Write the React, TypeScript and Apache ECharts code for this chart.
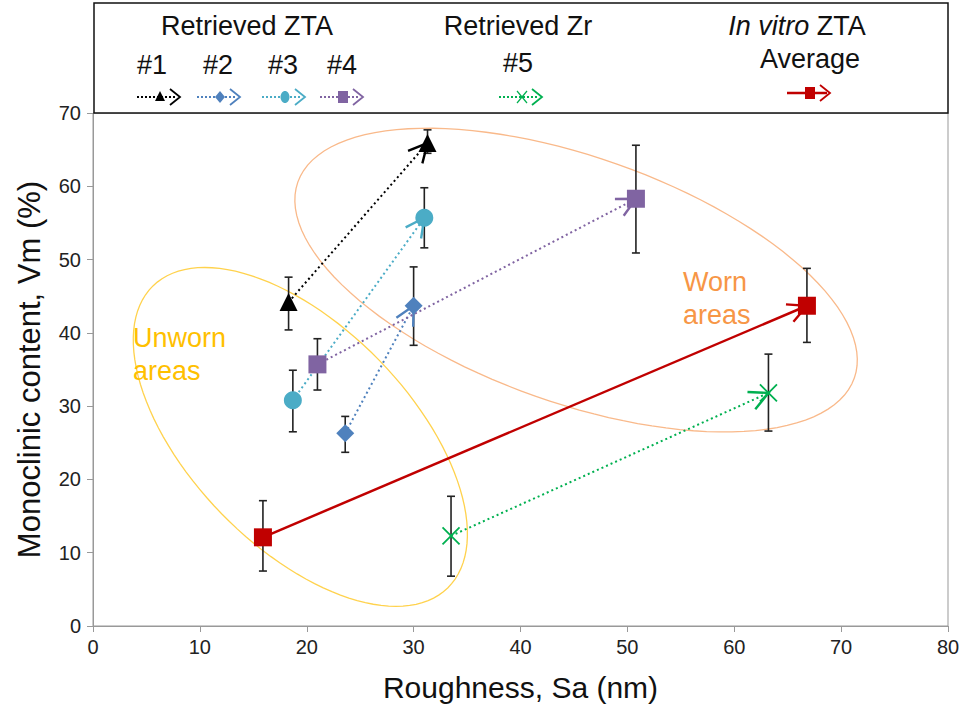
import React, { useEffect, useRef } from "react";
import * as echarts from "echarts";

// ---- data ----
const seriesNames = ["#1", "#2", "#3", "#4", "#5", "Average"];
const startX = [18.3, 23.6, 18.7, 21.0, 33.5, 15.9];
const startY = [44.2, 26.3, 30.8, 35.7, 12.3, 12.1];
const endX = [31.3, 30.0, 31.0, 50.8, 63.2, 66.8];
const endY = [65.9, 43.7, 55.7, 58.3, 31.8, 43.7];
const startLow = [40.4, 23.7, 26.5, 32.2, 6.8, 7.5];
const startHigh = [47.6, 28.6, 34.9, 39.2, 17.7, 17.1];
const endLow = [64.5, 38.3, 51.6, 50.9, 26.6, 38.7];
const endHigh = [67.7, 49.0, 59.8, 65.6, 37.1, 48.8];

const colors = ["#000000", "#4F81BD", "#4BACC6", "#8064A2", "#00B050", "#C00000"];
const symbols = [
  "triangle",
  "diamond",
  "circle",
  "rect",
  "path://M0,0L10,10M10,0L0,10",
  "rect",
];
const symbolSizes = [18, 18, 18, 18, 17, 18];

// annotation ellipses: center in data units, semi-axes (px) and tilt (deg)
const ellipseCenters = [
  [45.2, 47.2],
  [19.4, 25.8],
];
const ellipseA = [295, 211];
const ellipseB = [123, 110];
const ellipseTilt = [19.4, 45.7];
const ellipseColors = ["#F9B98A", "#FFD24D"];

const FONT = "'Liberation Sans', Arial, sans-serif";

function legendArrow(x0: number, y: number, color: string, marker: string, dotted: boolean) {
  const children: any[] = [];
  children.push({
    type: "line",
    shape: { x1: x0, y1: y, x2: x0 + 40, y2: y },
    style: dotted
      ? { stroke: color, lineWidth: 2, lineDash: [2, 2] }
      : { stroke: color, lineWidth: 2.5 },
  });
  const mx = x0 + 23;
  if (marker === "triangle") {
    children.push({ type: "polygon", shape: { points: [[mx, y - 6], [mx - 5, y + 4], [mx + 5, y + 4]] }, style: { fill: color } });
  } else if (marker === "diamond") {
    children.push({ type: "polygon", shape: { points: [[mx, y - 6], [mx + 5, y], [mx, y + 6], [mx - 5, y]] }, style: { fill: color } });
  } else if (marker === "circle") {
    children.push({ type: "ellipse", shape: { cx: mx, cy: y, rx: 4.5, ry: 6 }, style: { fill: color } });
  } else if (marker === "rect") {
    children.push({ type: "rect", shape: { x: mx - 5, y: y - 6, width: 10, height: 12 }, style: { fill: color } });
  } else if (marker === "x") {
    children.push({ type: "line", shape: { x1: mx - 5, y1: y - 6, x2: mx + 5, y2: y + 6 }, style: { stroke: color, lineWidth: 1.2 } });
    children.push({ type: "line", shape: { x1: mx + 5, y1: y - 6, x2: mx - 5, y2: y + 6 }, style: { stroke: color, lineWidth: 1.2 } });
  }
  children.push({
    type: "polyline",
    shape: { points: [[x0 + 33, y - 8], [x0 + 43, y], [x0 + 33, y + 8]] },
    style: { stroke: color, lineWidth: 1.8, fill: "none" },
  });
  return children;
}

function txt(x: number, y: number, text: string, extra: any = {}) {
  return {
    type: "text",
    x,
    y,
    style: { text, fontSize: 27, fontFamily: FONT, fill: "#111", align: "center", verticalAlign: "middle", ...extra },
  };
}

export default function App() {
  const ref = useRef<HTMLDivElement>(null);
  useEffect(() => {
    if (!ref.current) return;
    const chart = echarts.init(ref.current, undefined, { renderer: "svg" });

    const lineSeries = seriesNames.map((name, i) => ({
      type: "line",
      name,
      z: 4,
      data: [
        [startX[i], startY[i]],
        [endX[i], endY[i]],
      ],
      symbol: symbols[i],
      symbolSize: symbolSizes[i],
      itemStyle:
        i === 4
          ? { color: colors[i], borderColor: colors[i], borderWidth: 1.8 }
          : { color: colors[i] },
      lineStyle: {
        color: colors[i],
        width: i === 5 ? 2.5 : 2,
        type: i === 5 ? "solid" : [2, 3],
      },
    }));

    const errData: number[][] = [];
    seriesNames.forEach((_, i) => {
      errData.push([startX[i], startLow[i], startHigh[i]]);
      errData.push([endX[i], endLow[i], endHigh[i]]);
    });

    const arrowData = seriesNames.map((_, i) => [endX[i], endY[i], startX[i], startY[i], i]);

    const legendEls: any[] = [
      txt(247, 26, "Retrieved ZTA"),
      txt(518, 26, "Retrieved Zr"),
      txt(797, 26, "{i|In vitro} ZTA", {
        rich: { i: { fontStyle: "italic", fontSize: 27, fontFamily: FONT, fill: "#111" } },
      }),
      txt(810, 59, "Average"),
      txt(152, 65, "#1"),
      txt(218, 65, "#2"),
      txt(283, 65, "#3"),
      txt(342, 65, "#4"),
      txt(518, 63, "#5"),
      ...legendArrow(137, 97, colors[0], "triangle", true),
      ...legendArrow(197, 97, colors[1], "diamond", true),
      ...legendArrow(262, 97, colors[2], "circle", true),
      ...legendArrow(320, 97, colors[3], "rect", true),
      ...legendArrow(499, 97, colors[4], "x", true),
      ...legendArrow(787, 93, colors[5], "rect", false),
    ].map((el) => ({ ...el, z: 20 }));

    const option: any = {
      animation: false,
      grid: {
        left: 93,
        right: 16,
        top: 113,
        bottom: 84,
        show: true,
        borderColor: "#999",
        borderWidth: 1,
        backgroundColor: "transparent",
      },
      xAxis: {
        type: "value",
        min: 0,
        max: 80,
        interval: 10,
        name: "Roughness, Sa (nm)",
        nameLocation: "middle",
        nameGap: 46,
        nameTextStyle: { fontSize: 30, color: "#111", fontFamily: FONT },
        axisLine: { show: true, lineStyle: { color: "#999" } },
        axisTick: { show: true, length: 6, lineStyle: { color: "#999" } },
        axisLabel: { fontSize: 20, color: "#222", margin: 11, fontFamily: FONT },
        splitLine: { show: false },
      },
      yAxis: {
        type: "value",
        min: 0,
        max: 70,
        interval: 10,
        name: "Monoclinic content, Vm (%)",
        nameLocation: "middle",
        nameGap: 48,
        nameTextStyle: { fontSize: 31, color: "#111", fontFamily: FONT },
        axisLine: { show: true, lineStyle: { color: "#999" } },
        axisTick: { show: true, length: 6, lineStyle: { color: "#999" } },
        axisLabel: { fontSize: 20, color: "#222", margin: 12, fontFamily: FONT },
        splitLine: { show: false },
      },
      series: [
        {
          type: "custom",
          name: "ellipses",
          z: 1,
          silent: true,
          data: ellipseCenters.map((c, i) => [c[0], c[1], i]),
          encode: { x: 0, y: 1 },
          renderItem: (params: any, api: any) => {
            const i = api.value(2);
            const c = api.coord([api.value(0), api.value(1)]);
            const th = (ellipseTilt[i] * Math.PI) / 180;
            const pts: number[][] = [];
            for (let k = 0; k <= 120; k++) {
              const t = (k / 120) * Math.PI * 2;
              const ex = ellipseA[i] * Math.cos(t);
              const ey = ellipseB[i] * Math.sin(t);
              pts.push([c[0] + ex * Math.cos(th) - ey * Math.sin(th), c[1] + ex * Math.sin(th) + ey * Math.cos(th)]);
            }
            return {
              type: "polyline",
              shape: { points: pts },
              style: { stroke: ellipseColors[i], lineWidth: 1.3, fill: "none" },
            };
          },
        },
        {
          type: "custom",
          name: "errorbars",
          z: 2,
          silent: true,
          data: errData,
          encode: { x: 0, y: [1, 2] },
          renderItem: (params: any, api: any) => {
            const x = api.value(0);
            const lo = api.coord([x, api.value(1)]);
            const hi = api.coord([x, api.value(2)]);
            const st = { stroke: "#222", lineWidth: 1.6 };
            return {
              type: "group",
              children: [
                { type: "line", shape: { x1: lo[0], y1: lo[1], x2: hi[0], y2: hi[1] }, style: st },
                { type: "line", shape: { x1: lo[0] - 4, y1: lo[1], x2: lo[0] + 4, y2: lo[1] }, style: st },
                { type: "line", shape: { x1: hi[0] - 4, y1: hi[1], x2: hi[0] + 4, y2: hi[1] }, style: st },
              ],
            };
          },
        },
        {
          type: "custom",
          name: "arrowheads",
          z: 3,
          silent: true,
          data: arrowData,
          encode: { x: [0, 2], y: [1, 3] },
          renderItem: (params: any, api: any) => {
            const tip = api.coord([api.value(0), api.value(1)]);
            const from = api.coord([api.value(2), api.value(3)]);
            const idx = api.value(4);
            const ang = Math.atan2(from[1] - tip[1], from[0] - tip[0]);
            const L = 21;
            const spread = 0.47;
            const w1 = [tip[0] + L * Math.cos(ang + spread), tip[1] + L * Math.sin(ang + spread)];
            const w2 = [tip[0] + L * Math.cos(ang - spread), tip[1] + L * Math.sin(ang - spread)];
            return {
              type: "polyline",
              shape: { points: [w1, tip, w2] },
              style: { stroke: colors[idx], lineWidth: 2.4, fill: "none" },
            };
          },
        },
        ...lineSeries,
      ],
      graphic: [
        {
          type: "rect",
          z: 10,
          shape: { x: 94, y: 3, width: 854, height: 110 },
          style: { fill: "#fff", stroke: "#111", lineWidth: 1.5 },
        },
        ...legendEls,
        {
          type: "text",
          z: 11,
          left: 133,
          top: 321,
          style: { text: "Unworn\nareas", fontSize: 27, lineHeight: 33, fontFamily: FONT, fill: "#FFC000" },
        },
        {
          type: "text",
          z: 11,
          left: 683,
          top: 265,
          style: { text: "Worn\nareas", fontSize: 27, lineHeight: 33, fontFamily: FONT, fill: "#F79646" },
        },
      ],
    };
    chart.setOption(option);
    return () => chart.dispose();
  }, []);
  return <div ref={ref} style={{ width: 964, height: 710, position: "absolute", left: 0, top: 0, background: "#fff" }} />;
}
